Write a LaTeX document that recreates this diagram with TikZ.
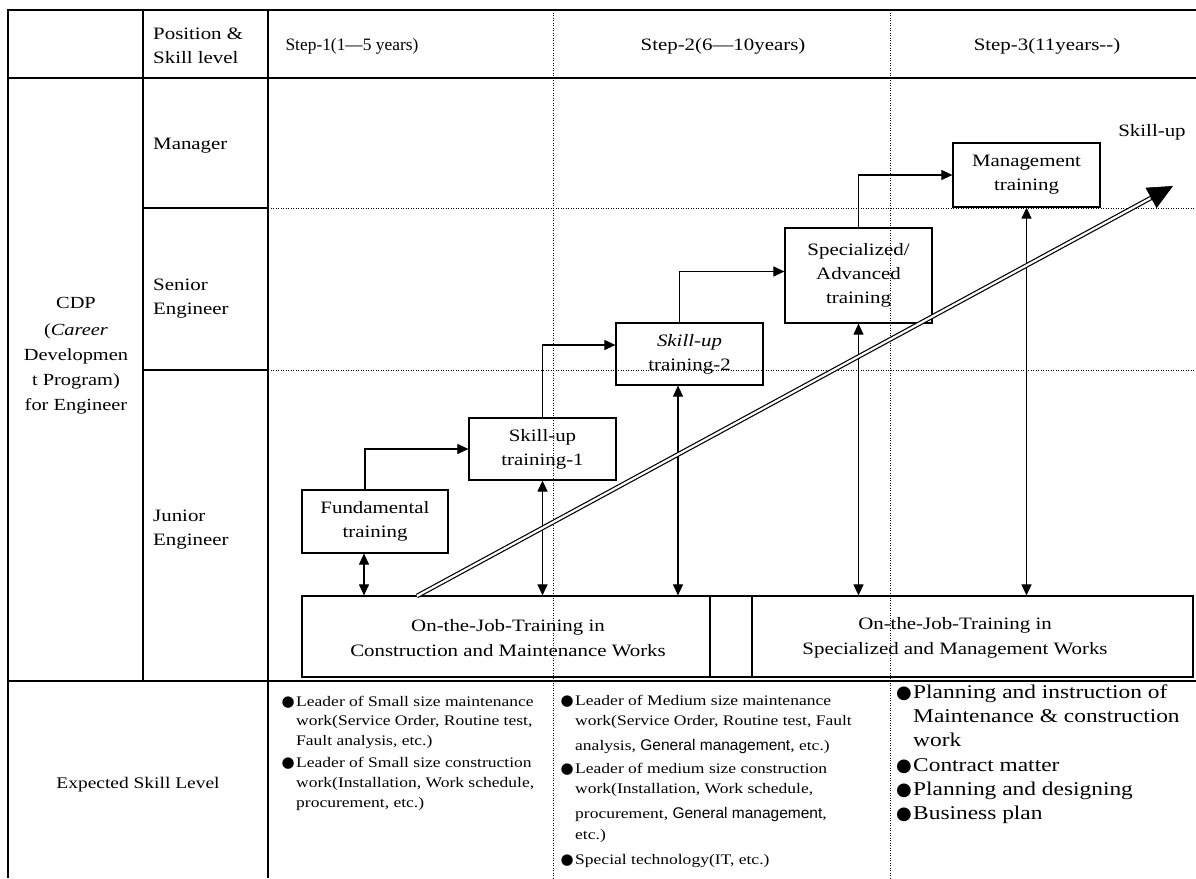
\documentclass[tikz,border=0pt]{standalone}
\usepackage{fontspec}
\setmainfont{Liberation Serif}[FakeStretch=1.2]
\newfontfamily\plainserif{Liberation Serif}
\newfontfamily\sansgm{Liberation Sans}
\newfontfamily\bulfont{DejaVu Sans}
\newcommand\genmgmt{{\sansgm\fontsize{15.5}{15.5}\selectfont General management}}
\usetikzlibrary{arrows.meta,calc}

\tikzset{
  tbl/.style={line width=1.5pt},
  gridline/.style={line width=0.9pt, dash pattern=on 1.1pt off 1.4pt},
  trbox/.style={draw, line width=1.2pt, align=center, inner sep=0pt,
    font=\fontsize{17.4}{24}\selectfont},
  lbl/.style={inner sep=0pt, anchor=base west, font=\fontsize{17.4}{23}\selectfont},
  hdr/.style={inner sep=0pt, anchor=base, font=\fontsize{17.4}{23}\selectfont},
  arr/.style={line width=1.1pt, -{Triangle[length=11pt,width=10pt]}},
  darr/.style={line width=1.1pt, {Triangle[length=11pt,width=10pt]}-{Triangle[length=11pt,width=10pt]}},
  ojt/.style={draw, line width=1.2pt, inner sep=0pt},
  ojtx/.style={inner sep=0pt, align=center, font=\fontsize{17.4}{25}\selectfont},
  bl/.style={inner sep=0pt, anchor=base west, font=\fontsize{14.6}{20}\selectfont},
  blb/.style={inner sep=0pt, anchor=base west, font=\fontsize{19.5}{24}\selectfont},
  dotb/.style={inner sep=0pt, anchor=base east, font=\bulfont\fontsize{15}{15}\selectfont},
  dotc/.style={inner sep=0pt, anchor=base east, font=\bulfont\fontsize{18}{18}\selectfont},
}

\begin{document}
\begin{tikzpicture}[x=1pt,y=-1pt]
\useasboundingbox (0,0) rectangle (1196,878);
\fill[white] (0,0) rectangle (1196,878);

% dotted step and level separators
\draw[gridline] (553,10) -- (553,878);
\draw[gridline] (890,10) -- (890,878);
\draw[gridline] (268,208) -- (1196,208);
\draw[gridline] (268,370) -- (1196,370);

% table frame
\draw[tbl] (1196,10) -- (8,10) -- (8,878);
\draw[tbl] (8,78) -- (1196,78);
\draw[tbl] (8,681) -- (1196,681);
\draw[tbl] (143,10) -- (143,681);
\draw[tbl] (268,10) -- (268,878);
\draw[tbl] (143,208) -- (268,208);
\draw[tbl] (143,370) -- (268,370);

% header
\node[lbl] (hpos1) at (153,39) {Position \&};
\node[lbl] (hpos2) at (153,63) {Skill level};
\node[hdr, font=\plainserif\fontsize{17.4}{20}\selectfont] (hs1) at (352,50) {Step-1(1—5 years)};
\node[hdr] (hs2) at (723,50) {Step-2(6—10years)};
\node[hdr] (hs3) at (1047,50) {Step-3(11years-{}-)};

% level labels
\node[lbl] (lmgr) at (153,149) {Manager};
\node[lbl] (lsen1) at (153,290) {Senior};
\node[lbl] (lsen2) at (153,314) {Engineer};
\node[lbl] (ljun1) at (153,521) {Junior};
\node[lbl] (ljun2) at (153,545) {Engineer};

\node[align=center, inner sep=0pt, font=\fontsize{17}{25}\selectfont] (cdp) at (76,356)
  {CDP\\[2pt](\textit{Career}\\Developmen\\t Program)\\for Engineer};
\node[inner sep=0pt, anchor=base, font=\fontsize{16.2}{20}\selectfont] (exp) at (138,788)
  {Expected Skill Level};

% training boxes
\node[trbox, minimum width=146pt, minimum height=63pt] (fund) at (375,521.5) {Fundamental\\training};
\node[trbox, minimum width=147pt, minimum height=62pt] (su1) at (542.5,449) {Skill-up\\training-1};
\node[trbox, minimum width=147pt, minimum height=62pt] (su2) at (689.5,354) {\textit{Skill-up}\\training-2};
\node[trbox, minimum width=147pt, minimum height=95pt] (spec) at (858.5,275.5) {Specialized/\\Advanced\\training};
\node[trbox, minimum width=147pt, minimum height=64pt] (mgmt) at (1026.5,175) {Management\\training};

% on-the-job training band
\node[ojt, minimum width=408pt, minimum height=81pt] (ojtL) at (506,636.5) {};
\node[ojt, minimum width=42pt, minimum height=81pt] (ojtG) at (731,636.5) {};
\node[ojt, minimum width=441pt, minimum height=81pt] (ojtR) at (972.5,636.5) {};
\node[ojtx] (ojtLt) at (508,638) {On-the-Job-Training in\\Construction and Maintenance Works};
\node[ojtx] (ojtRt) at (955,638) {On-the-Job-Training in\\Specialized and Management Works};

% progression arrows
\draw[arr] ([xshift=-10pt]fund.north) |- (su1.west);
\draw[arr] (su1.north) |- ([yshift=9pt]su2.west);
\draw[arr] ([xshift=-10pt]su2.north) |- ([yshift=4pt]spec.west);
\draw[arr] (spec.north) |- (mgmt.west);

% links to on-the-job training
\draw[darr] ([xshift=-11pt]fund.south) -- ([xshift=-11pt]fund.south |- ojtL.north);
\draw[darr] (su1.south) -- (su1.south |- ojtL.north);
\draw[darr] ([xshift=-11.5pt]su2.south) -- ([xshift=-11.5pt]su2.south |- ojtL.north);
\draw[darr] (spec.south) -- (spec.south |- ojtR.north);
\draw[darr] (mgmt.south) -- (mgmt.south |- ojtR.north);

% skill-up trend arrow
\coordinate (sks) at (417,596);
\coordinate (ske) at (1173,186);
\draw[line width=1.2pt, double=white, double distance=2.2pt] (sks) -- ($(sks)!0.98!(ske)$);
\draw[line width=0.6pt, -{Triangle[length=25pt,width=23pt]}] ($(sks)!0.97!(ske)$) -- (ske);
\node[hdr] (sklbl) at (1152,136) {Skill-up};

% expected skill level, step 1
\node[dotb] (d1a) at (295,706) {●};
\node[bl] (t1a) at (296,706) {Leader of Small size maintenance};
\node[bl] (t1b) at (296,725) {work(Service Order, Routine test,};
\node[bl] (t1c) at (296,745) {Fault analysis, etc.)};
\node[dotb] (d1b) at (295,767) {●};
\node[bl] (t1d) at (296,767) {Leader of Small size construction};
\node[bl] (t1e) at (296,787) {work(Installation, Work schedule,};
\node[bl] (t1f) at (296,807) {procurement, etc.)};

% expected skill level, step 2
\node[dotb] (d2a) at (574,705) {●};
\node[bl] (t2a) at (575,705) {Leader of Medium size maintenance};
\node[bl] (t2b) at (575,725) {work(Service Order, Routine test, Fault};
\node[bl] (t2c) at (575,750) {analysis, \genmgmt, etc.)};
\node[dotb] (d2b) at (574,773) {●};
\node[bl] (t2d) at (575,773) {Leader of medium size construction};
\node[bl] (t2e) at (575,793) {work(Installation, Work schedule,};
\node[bl] (t2f) at (575,818) {procurement, \genmgmt,};
\node[bl] (t2g) at (575,839) {etc.)};
\node[dotb] (d2c) at (574,864) {●};
\node[bl] (t2h) at (575,864) {Special technology(IT, etc.)};

% expected skill level, step 3
\node[dotc] (d3a) at (912,698) {●};
\node[blb] (t3a) at (913,698) {Planning and instruction of};
\node[blb] (t3b) at (913,722) {Maintenance \& construction};
\node[blb] (t3c) at (913,746) {work};
\node[dotc] (d3b) at (912,771) {●};
\node[blb] (t3d) at (913,771) {Contract matter};
\node[dotc] (d3c) at (912,795) {●};
\node[blb] (t3e) at (913,795) {Planning and designing};
\node[dotc] (d3d) at (912,819) {●};
\node[blb] (t3f) at (913,819) {Business plan};
\end{tikzpicture}
\end{document}
